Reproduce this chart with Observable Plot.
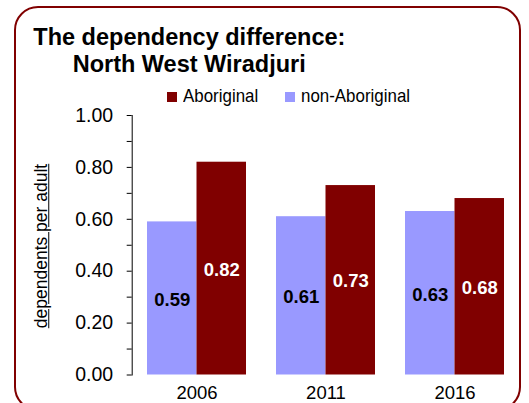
<!DOCTYPE html>
<html>
<head>
<meta charset="utf-8">
<script src="https://cdn.jsdelivr.net/npm/d3@7"></script>
<script src="https://cdn.jsdelivr.net/npm/@observablehq/plot@0.6"></script>
<style>
  html, body { margin: 0; padding: 0; background: white; overflow: hidden; }
  #wrap { position: relative; width: 529px; height: 403px; overflow: hidden;
          font-family: "Liberation Sans", Arial, Helvetica, sans-serif; color: black; }
  #chart { position: absolute; left: 0; top: 0; }
  .t { position: absolute; white-space: nowrap; font-weight: bold; font-size: 23.5px; line-height: 27px; }
  .leg { position: absolute; top: 86.2px; font-size: 19px; line-height: 1; white-space: nowrap;
         transform: scaleX(0.89); transform-origin: left center; }
  .sw { position: absolute; top: 92.3px; width: 10px; height: 10px; }
  #ylab { position: absolute; left: 42px; top: 245.5px; font-size: 17.5px; line-height: 1; white-space: nowrap;
          transform: translate(-50%, -50%) rotate(-90deg); text-decoration: underline; }
  #border { position: absolute; left: 14px; top: 5.5px; width: 507px; height: 405px; box-sizing: border-box;
            border: 2.5px solid #800000; border-radius: 24px; pointer-events: none; }
  #chart g[aria-label="x-axis tick label"] text { font-size: 18.5px; }
</style>
</head>
<body>
<div id="wrap">
  <div id="chart"></div>
  <div class="t" style="left:33.3px; top:24.1px;">The dependency difference:</div>
  <div class="t" style="left:72.7px; top:51px;">North West Wiradjuri</div>
  <div class="sw" style="left:167.3px; background:#800000;"></div>
  <div class="leg" style="left:182.7px;">Aboriginal</div>
  <div class="sw" style="left:285px; background:#9999FF;"></div>
  <div class="leg" style="left:300.7px;">non-Aboriginal</div>
  <div id="ylab">dependents per adult</div>
  <div id="border"></div>
</div>
<script>
const years = ["2006", "2011", "2016"];
const aboriginal = [0.82, 0.73, 0.68];
const nonAboriginal = [0.59, 0.61, 0.63];
const yTicks = [0, 0.1, 0.2, 0.3, 0.4, 0.5, 0.6, 0.7, 0.8, 0.9, 1.0];

const abData = years.map((year, i) => ({year, value: aboriginal[i]}));
const nonData = years.map((year, i) => ({year, value: nonAboriginal[i]}));

const chart = Plot.plot({
  width: 529,
  height: 403,
  marginTop: 115,
  marginBottom: 28.5,
  marginLeft: 131.7,
  marginRight: 9.4,
  style: {
    fontFamily: '"Liberation Sans", Arial, Helvetica, sans-serif',
    fontSize: "19.5px",
    color: "black",
    background: "transparent",
    overflow: "visible"
  },
  x: {
    domain: years,
    paddingInner: 0.2326,
    paddingOuter: 0.1186,
    tickSize: 0,
    tickPadding: 11,
    label: null
  },
  y: {
    domain: [0, 1],
    ticks: yTicks,
    tickFormat: d => (Math.round(d * 10) % 2 === 0 ? d.toFixed(2) : ""),
    tickSize: 5,
    tickPadding: 14,
    line: true,
    label: null
  },
  marks: [
    Plot.barY(nonData, {x: "year", y: "value", fill: "#9999FF", insetLeft: 0, insetRight: 49.5}),
    Plot.barY(abData, {x: "year", y: "value", fill: "#800000", insetLeft: 49.5, insetRight: 0}),
    Plot.text(nonData, {x: "year", y: d => d.value / 2, text: d => d.value.toFixed(2), dx: -24.75, dy: 1.5,
      fill: "black", fontWeight: "bold", fontSize: 18.5}),
    Plot.text(abData, {x: "year", y: d => d.value / 2, text: d => d.value.toFixed(2), dx: 24.75, dy: 1,
      fill: "white", fontWeight: "bold", fontSize: 18.5})
  ]
});
document.getElementById("chart").appendChild(chart);
</script>
</body>
</html>
